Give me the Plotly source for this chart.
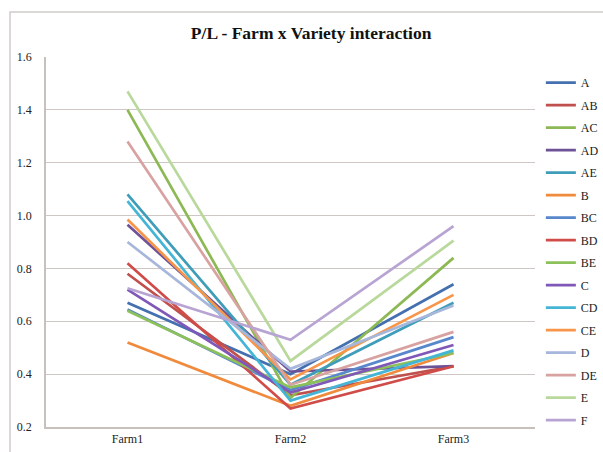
import plotly.graph_objects as go

farms = ["Farm1", "Farm2", "Farm3"]
varieties = ["A", "AB", "AC", "AD", "AE", "B", "BC", "BD", "BE", "C", "CD", "CE", "D", "DE", "E", "F"]
values = {
    "A":  [0.67, 0.40, 0.74],
    "AB": [0.78, 0.32, 0.43],
    "AC": [1.40, 0.31, 0.84],
    "AD": [0.965, 0.41, 0.43],
    "AE": [1.08, 0.36, 0.67],
    "B":  [0.52, 0.28, 0.48],
    "BC": [0.645, 0.34, 0.54],
    "BD": [0.82, 0.27, 0.43],
    "BE": [0.64, 0.35, 0.48],
    "C":  [0.72, 0.33, 0.51],
    "CD": [1.055, 0.30, 0.49],
    "CE": [0.985, 0.38, 0.70],
    "D":  [0.90, 0.42, 0.66],
    "DE": [1.28, 0.36, 0.56],
    "E":  [1.47, 0.45, 0.905],
    "F":  [0.725, 0.53, 0.96],
}
colors = ["#4470B0", "#C0504D", "#8DB954", "#6E5298", "#3F9DBA", "#F08A3C",
          "#5887CC", "#CF4C48", "#8CC05A", "#8059B8", "#45B5D6", "#F7964A",
          "#A7B7DB", "#D8A2A1", "#B9D99C", "#B8A4D3"]

fig = go.Figure()
for name, col in zip(varieties, colors):
    fig.add_trace(go.Scatter(x=farms, y=values[name], mode="lines", name=name,
                             legendgroup=name,
                             line=dict(color=col, width=2.7)))

fig.update_layout(
    width=603, height=452,
    margin=dict(l=46, r=68, t=57, b=25, autoexpand=False),
    paper_bgcolor="white", plot_bgcolor="white",
    font=dict(family="Liberation Serif", size=12, color="#222222"),
    title=dict(text="<b>P/L - Farm x Variety interaction</b>", x=0.516, xref="container",
               xanchor="center", y=0.927, yanchor="middle",
               font=dict(family="Liberation Serif", size=17.5, color="#111111")),
    showlegend=True,
    legend=dict(x=1.012, y=0.97, xanchor="left", yanchor="top",
                tracegroupgap=3.5, font=dict(size=12), itemwidth=30,
                maxheight=445, bgcolor="rgba(0,0,0,0)"),
    xaxis=dict(showgrid=False, showline=True, linecolor="#C8C0BC", linewidth=1.5,
               range=[-0.5, 2.5], ticks="", tickfont=dict(size=12)),
    yaxis=dict(range=[0.2, 1.6], dtick=0.2, tickformat=".1f", showgrid=True,
               gridcolor="#CFC7C3", gridwidth=1.2, zeroline=False, showline=True,
               linecolor="#C8C0BC", linewidth=1.5, ticks="", ticklabelstandoff=10,
               tickfont=dict(size=12)),
    shapes=[dict(type="rect", xref="paper", yref="paper",
                 x0=(10 - 46) / 489, x1=(603 - 46) / 489 + 0.02,
                 y0=-0.2, y1=1 + (57 - 12) / 370,
                 line=dict(color="#D0CCCA", width=1.5), fillcolor="rgba(0,0,0,0)",
                 layer="below")],
)

fig.write_html("out.html")
